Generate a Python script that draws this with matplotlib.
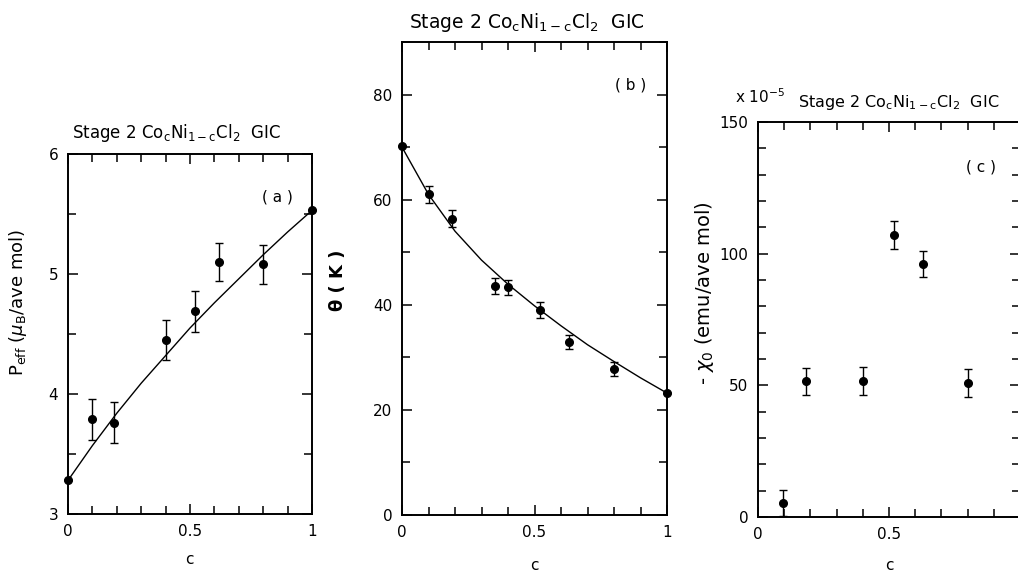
import matplotlib
matplotlib.use("Agg")
import matplotlib.pyplot as plt
from matplotlib.ticker import MultipleLocator

# ---- (a) effective moment vs Co concentration ----
c_a = [0.0, 0.10, 0.19, 0.40, 0.52, 0.62, 0.80, 1.0]
peff = [3.28, 3.79, 3.76, 4.45, 4.69, 5.10, 5.08, 5.53]
peff_err = [0.0, 0.17, 0.17, 0.17, 0.17, 0.16, 0.16, 0.0]

c_fit = [0.0, 0.1, 0.2, 0.3, 0.4, 0.5, 0.6, 0.7, 0.8, 0.9, 1.0]
peff_fit = [3.28, 3.57, 3.84, 4.09, 4.32, 4.55, 4.76, 4.96, 5.16, 5.35, 5.53]

# ---- (b) Curie-Weiss temperature ----
c_b = [0.0, 0.10, 0.19, 0.35, 0.40, 0.52, 0.63, 0.80, 1.0]
theta = [70.3, 61.0, 56.4, 43.6, 43.3, 39.0, 32.9, 27.8, 23.2]
theta_err = [0.0, 1.6, 1.6, 1.5, 1.4, 1.5, 1.4, 1.3, 0.0]
theta_fit = [70.0, 61.0, 54.0, 48.5, 43.9, 39.8, 36.0, 32.4, 29.2, 26.1, 23.2]

# ---- (c) temperature independent susceptibility ----
c_c = [0.095, 0.185, 0.40, 0.52, 0.63, 0.80]
chi0 = [5.3, 51.5, 51.6, 107.2, 96.2, 50.8]
chi0_err = [5.0, 5.0, 5.3, 5.3, 5.0, 5.3]

TITLE = r"Stage 2 Co$_{\rm c}$Ni$_{\rm 1-c}$Cl$_{\rm 2}$  GIC"
FS = 11

plt.rcParams["font.family"] = ["DejaVu Sans"]
plt.rcParams["mathtext.fontset"] = "dejavusans"

W, H = 1018, 572
fig = plt.figure(figsize=(W / 100, H / 100), dpi=100)


def px_axes(left, top, right, bottom):
    return fig.add_axes([left / W, 1 - bottom / H, (right - left) / W, (bottom - top) / H])


def style(ax, ymajor, yminor, show_one=True):
    ax.set_xlim(0, 1)
    ax.xaxis.set_major_locator(MultipleLocator(0.5))
    ax.xaxis.set_minor_locator(MultipleLocator(0.1))
    ax.yaxis.set_major_locator(MultipleLocator(ymajor))
    ax.yaxis.set_minor_locator(MultipleLocator(yminor))
    xlabels = {0: "0", 0.5: "0.5", 1: "1" if show_one else ""}
    ax.xaxis.set_major_formatter(lambda v, pos: xlabels.get(round(v, 2), ""))
    ax.yaxis.set_major_formatter(lambda v, pos: f"{v:g}")
    ax.tick_params(which="both", direction="in", top=True, right=True, width=1.1,
                   labelsize=FS, pad=7)
    ax.tick_params(which="major", length=7)
    ax.tick_params(which="minor", length=6)
    for s in ax.spines.values():
        s.set_linewidth(1.4)


def points(ax, x, y, err):
    ax.errorbar(x, y, yerr=err, fmt="o", color="black", ms=5.5, capsize=2.8,
                elinewidth=1.0, capthick=1.0, clip_on=False, zorder=3)


# (a)
ax_a = px_axes(68, 154, 312, 514)
style(ax_a, 1, 0.5)
ax_a.set_ylim(3, 6)
ax_a.plot(c_fit, peff_fit, color="black", lw=1.0)
points(ax_a, c_a, peff, peff_err)
ax_a.text(0.92, 0.88, "( a )", transform=ax_a.transAxes, ha="right", va="center", fontsize=FS)
fig.text(177 / W, 1 - 133 / H, TITLE, ha="center", va="center", fontsize=12)
fig.text(18 / W, 1 - 302 / H, r"P$_{\rm eff}$ ($\mu_{\rm B}$/ave mol)", rotation=90,
         ha="center", va="center", fontsize=13)
fig.text(189 / W, 1 - 560 / H, "c", ha="center", va="center", fontsize=FS)

# (b)
ax_b = px_axes(402, 42, 667, 515)
style(ax_b, 20, 10)
ax_b.set_ylim(0, 90)
ax_b.plot(c_fit, theta_fit, color="black", lw=1.0)
points(ax_b, c_b, theta, theta_err)
ax_b.text(0.92, 0.91, "( b )", transform=ax_b.transAxes, ha="right", va="center", fontsize=FS)
fig.text(527 / W, 1 - 22 / H, TITLE, ha="center", va="center", fontsize=13.5)
fig.text(338 / W, 1 - 280 / H, "θ ( K )", rotation=90, ha="center", va="center",
         fontsize=13, fontweight="bold")
fig.text(534 / W, 1 - 566 / H, "c", ha="center", va="center", fontsize=FS)

# (c)
ax_c = px_axes(758, 122, 1020, 517)
style(ax_c, 50, 10, show_one=False)
ax_c.set_ylim(0, 150)
points(ax_c, c_c, chi0, chi0_err)
ax_c.text(0.91, 0.885, "( c )", transform=ax_c.transAxes, ha="right", va="center", fontsize=FS)
fig.text(899 / W, 1 - 103 / H, TITLE, ha="center", va="center", fontsize=11.5)
fig.text(760 / W, 1 - 97 / H, r"x 10$^{-5}$", ha="center", va="center", fontsize=FS)
fig.text(705 / W, 1 - 293 / H, r"- $\chi_{0}$ (emu/ave mol)", rotation=90,
         ha="center", va="center", fontsize=14)
fig.text(889 / W, 1 - 565 / H, "c", ha="center", va="center", fontsize=FS)

fig.savefig("out.png", dpi=100)
